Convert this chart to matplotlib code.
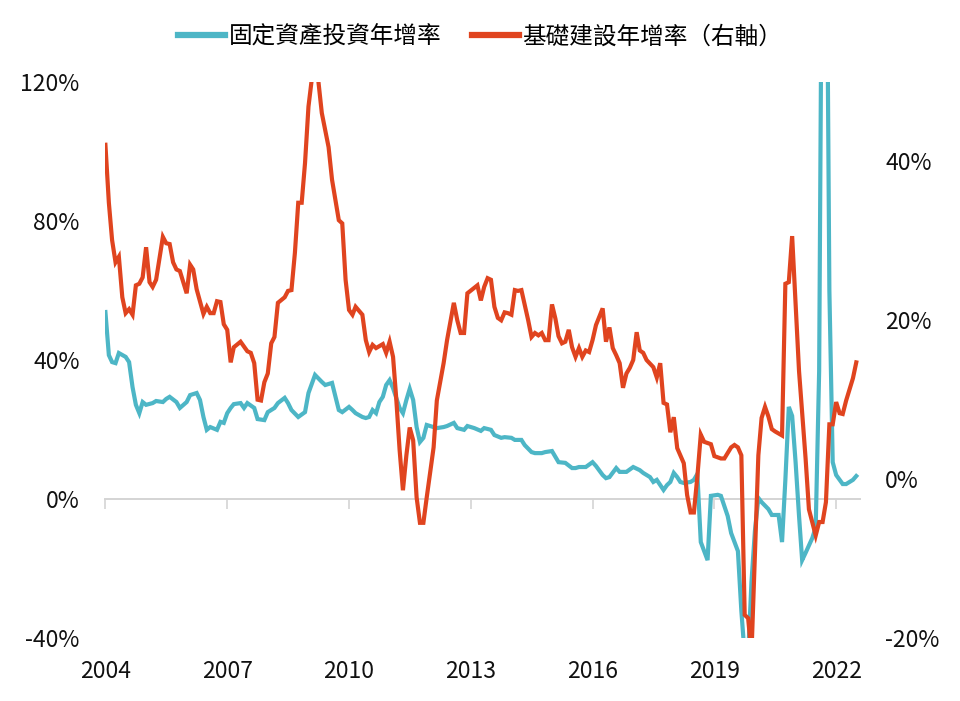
import matplotlib
matplotlib.use("Agg")
import matplotlib.pyplot as plt
import pandas as pd

plt.rcParams['font.family'] = ['Noto Sans CJK TC', 'DejaVu Sans']

# ---------------- data ----------------
fai_dates = [
    "2004-01", "2004-02", "2004-03", "2004-04", "2004-05", "2004-07", "2004-08", "2004-09", "2004-10", "2004-11", "2004-12",
    "2005-01", "2005-03", "2005-04", "2005-06", "2005-07", "2005-08", "2005-10", "2005-11",
    "2006-01", "2006-02", "2006-04", "2006-05", "2006-06", "2006-07", "2006-08", "2006-10", "2006-11", "2006-12",
    "2007-01", "2007-02", "2007-03", "2007-05", "2007-06", "2007-07", "2007-09", "2007-10", "2007-12",
    "2008-01", "2008-03", "2008-04", "2008-06", "2008-07", "2008-08", "2008-10", "2008-12",
    "2009-01", "2009-03", "2009-05", "2009-06", "2009-08", "2009-09", "2009-10", "2009-11",
    "2010-01", "2010-02", "2010-03", "2010-05", "2010-06", "2010-07", "2010-08", "2010-09", "2010-10", "2010-11", "2010-12",
    "2011-01", "2011-02", "2011-04", "2011-05", "2011-06", "2011-07", "2011-08", "2011-09", "2011-10", "2011-11", "2011-12",
    "2012-02", "2012-03", "2012-05", "2012-06", "2012-08", "2012-09", "2012-11", "2012-12",
    "2013-02", "2013-04", "2013-05", "2013-07", "2013-08", "2013-10", "2013-11",
    "2014-01", "2014-02", "2014-04", "2014-05", "2014-07", "2014-08", "2014-10", "2014-11",
    "2015-01", "2015-02", "2015-03", "2015-05", "2015-07", "2015-08", "2015-09", "2015-11",
    "2016-01", "2016-02", "2016-04", "2016-05", "2016-06", "2016-08", "2016-09", "2016-11",
    "2017-01", "2017-03", "2017-04", "2017-06", "2017-07", "2017-08", "2017-10", "2017-11", "2017-12",
    "2018-01", "2018-02", "2018-03", "2018-04", "2018-06", "2018-07", "2018-08", "2018-09", "2018-10", "2018-11", "2018-12",
    "2019-02", "2019-03", "2019-05", "2019-06", "2019-07", "2019-08", "2019-09", "2019-10", "2019-11", "2019-12",
    "2020-01", "2020-02", "2020-03", "2020-05", "2020-06", "2020-08", "2020-09", "2020-10", "2020-11", "2020-12",
    "2021-01", "2021-02", "2021-03", "2021-04", "2021-06", "2021-07", "2021-08", "2021-09", "2021-10", "2021-11", "2021-12",
    "2022-01", "2022-03", "2022-04", "2022-06", "2022-07",
]
fai_values = [
    53.8, 41.4, 39.4, 39.1, 42.0, 40.9, 39.4, 32.2, 27.1, 24.7, 27.9,
    27.1, 27.6, 28.2, 27.9, 28.8, 29.4, 27.9, 26.2,
    27.9, 29.9, 30.5, 28.5, 23.6, 19.9, 20.7, 19.9, 22.2, 21.9,
    24.7, 26.2, 27.3, 27.6, 26.2, 27.6, 26.2, 23.0, 22.7,
    25.0, 26.2, 27.6, 29.1, 27.6, 25.6, 23.6, 25.0,
    30.5, 35.7, 33.7, 32.8, 33.4, 29.4, 25.6, 25.0,
    26.5, 25.6, 24.7, 23.6, 23.3, 23.6, 25.6, 24.7, 27.9, 29.4, 32.8,
    34.2, 31.9, 26.2, 24.7, 28.5, 31.7, 28.5, 20.7, 16.4, 17.6, 21.3,
    20.7, 20.4, 20.7, 21.0, 21.9, 20.4, 19.9, 21.0,
    20.4, 19.6, 20.4, 19.9, 18.4, 17.6, 17.8,
    17.6, 17.0, 17.0, 15.5, 13.5, 13.2, 13.2, 13.5,
    13.8, 12.1, 10.6, 10.4, 8.9, 8.9, 9.2, 9.2,
    10.6, 9.5, 6.9, 6.0, 6.3, 8.9, 7.8, 7.8,
    9.2, 8.3, 7.5, 6.3, 4.9, 5.5, 2.6, 4.0, 4.9,
    7.5, 6.3, 4.9, 4.6, 4.9, 5.5, 7.2, -12.4, -15.0, -17.6, 0.9,
    1.2, 0.9, -4.9, -9.8, -12.4, -15.0, -32.2, -45.0, -45.0, -23.9,
    -9.2, 0.3, -0.9, -2.9, -4.6, -4.6, -12.4, 5.5, 26.5, 23.9,
    10.6, -4.9, -17.6, -15.5, -11.2, -8.1, 36.8, 200.0, 200.0, 60.0, 10.6,
    6.9, 4.3, 4.3, 5.5, 6.6,
]

infra_dates = [
    "2004-01", "2004-02", "2004-03", "2004-04", "2004-05", "2004-06", "2004-07", "2004-08", "2004-09", "2004-10", "2004-11", "2004-12",
    "2005-01", "2005-02", "2005-03", "2005-04", "2005-06", "2005-07", "2005-08", "2005-09", "2005-10", "2005-11",
    "2006-01", "2006-02", "2006-03", "2006-04", "2006-06", "2006-07", "2006-08", "2006-09", "2006-10", "2006-11", "2006-12",
    "2007-01", "2007-02", "2007-03", "2007-05", "2007-07", "2007-08", "2007-09", "2007-10", "2007-11", "2007-12",
    "2008-01", "2008-02", "2008-03", "2008-04", "2008-06", "2008-07", "2008-08", "2008-09", "2008-10", "2008-11", "2008-12",
    "2009-01", "2009-02", "2009-03", "2009-04", "2009-05", "2009-07", "2009-08", "2009-10", "2009-11", "2009-12",
    "2010-01", "2010-02", "2010-03", "2010-05", "2010-06", "2010-07", "2010-08", "2010-09", "2010-11", "2010-12",
    "2011-01", "2011-02", "2011-03", "2011-04", "2011-05", "2011-06", "2011-07", "2011-08", "2011-09", "2011-10", "2011-11", "2011-12",
    "2012-02", "2012-03", "2012-05", "2012-06", "2012-08", "2012-09", "2012-10", "2012-11", "2012-12",
    "2013-02", "2013-03", "2013-04", "2013-05", "2013-06", "2013-07", "2013-08", "2013-09", "2013-10", "2013-11", "2013-12",
    "2014-01", "2014-02", "2014-03", "2014-04", "2014-06", "2014-07", "2014-08", "2014-09", "2014-10", "2014-11", "2014-12",
    "2015-01", "2015-02", "2015-03", "2015-04", "2015-05", "2015-06", "2015-07", "2015-08", "2015-09", "2015-10", "2015-11", "2015-12",
    "2016-01", "2016-02", "2016-04", "2016-05", "2016-06", "2016-07", "2016-08", "2016-09", "2016-10", "2016-11", "2016-12",
    "2017-01", "2017-02", "2017-03", "2017-04", "2017-05", "2017-07", "2017-08", "2017-09", "2017-10", "2017-11", "2017-12",
    "2018-01", "2018-02", "2018-04", "2018-05", "2018-06", "2018-07", "2018-08", "2018-09", "2018-10", "2018-12",
    "2019-01", "2019-03", "2019-04", "2019-06", "2019-07", "2019-08", "2019-09", "2019-10", "2019-11", "2019-12",
    "2020-01", "2020-02", "2020-03", "2020-04", "2020-05", "2020-06", "2020-07", "2020-09", "2020-10", "2020-11", "2020-12",
    "2021-02", "2021-04", "2021-05", "2021-07", "2021-08", "2021-09", "2021-10", "2021-11", "2021-12",
    "2022-01", "2022-02", "2022-03", "2022-04", "2022-06", "2022-07",
]
infra_values = [
    42.1, 34.8, 30.1, 27.3, 28.0, 22.9, 20.9, 21.4, 20.7, 24.4, 24.6, 25.4,
    29.2, 24.8, 24.2, 25.1, 30.5, 29.7, 29.6, 27.3, 26.4, 26.2,
    23.4, 27.0, 26.4, 23.9, 20.8, 21.7, 20.9, 20.9, 22.4, 22.3, 19.5,
    18.8, 14.7, 16.6, 17.3, 16.1, 15.9, 14.6, 10.0, 9.9, 12.2,
    13.3, 17.1, 17.9, 22.2, 22.9, 23.7, 23.8, 28.5, 34.8, 34.8, 39.8,
    46.9, 50.5, 54.0, 50.0, 46.1, 41.8, 37.7, 32.6, 32.2, 25.1,
    21.3, 20.7, 21.7, 20.7, 17.5, 16.0, 16.9, 16.5, 17.0, 15.9,
    17.3, 15.4, 10.3, 3.7, -1.4, 3.0, 6.5, 4.9, -2.3, -5.5, -5.5, -2.3,
    4.0, 9.9, 14.6, 17.5, 22.2, 20.0, 18.4, 18.4, 23.4,
    24.1, 24.4, 22.5, 24.2, 25.3, 25.1, 21.7, 20.3, 20.0, 21.0, 20.9,
    20.7, 23.8, 23.7, 23.8, 20.0, 17.9, 18.4, 18.1, 18.4, 17.5, 17.5,
    22.0, 20.2, 18.0, 17.1, 17.3, 18.8, 16.6, 15.4, 16.5, 15.4, 16.2, 16.0,
    17.5, 19.4, 21.5, 17.3, 19.1, 16.5, 15.6, 14.6, 11.5, 13.3, 14.0,
    15.0, 18.5, 16.2, 15.9, 15.0, 14.1, 12.8, 14.6, 9.6, 9.4, 5.9,
    7.8, 3.9, 2.0, -2.0, -4.2, -4.2, 0.3, 5.6, 4.7, 4.4,
    2.9, 2.6, 2.6, 4.0, 4.3, 4.0, 3.0, -17.1, -17.5, -22.0,
    -9.3, 3.0, 7.7, 9.1, 7.9, 6.3, 6.0, 5.5, 24.6, 24.8, 30.6,
    13.6, 2.6, -3.8, -7.1, -5.4, -5.4, -2.9, 6.9, 6.9,
    9.7, 8.3, 8.2, 9.9, 12.7, 14.7,
]

year_ticks = ["2004", "2007", "2010", "2013", "2016", "2019", "2022"]
left_ticks = [-40, 0, 40, 80, 120]
right_ticks = [-20, 0, 20, 40]

series_names = ["固定資產投資年增率", "基礎建設年增率（右軸）"]

# ---------------- plot ----------------
CYAN = "#4db6c6"
RED = "#e0441f"
GRAY = "#d4d4d4"
TXT = "#111111"

fig = plt.figure(figsize=(9.6, 7.01), dpi=100)
ax = fig.add_axes([0.109, 0.0899, 0.787, 0.7931])
ax2 = ax.twinx()

fx = pd.to_datetime(fai_dates, format="%Y-%m")
ix = pd.to_datetime(infra_dates, format="%Y-%m")

l1, = ax.plot(fx, fai_values, color=CYAN, lw=3.0, solid_joinstyle="miter")
l2, = ax2.plot(ix, infra_values, color=RED, lw=3.0, solid_joinstyle="miter")

ax.set_ylim(-40, 120)
ax2.set_ylim(-20, 50)
xt = pd.to_datetime(year_ticks, format="%Y")
ax.set_xlim(pd.Timestamp("2003-12-25"), pd.Timestamp("2022-08-05"))

for a in (ax, ax2):
    for s in a.spines.values():
        s.set_visible(False)

ax.set_yticks(left_ticks)
ax.set_yticklabels([f"{v}%" for v in left_ticks])
ax2.set_yticks(right_ticks)
ax2.set_yticklabels([f"{v}%" for v in right_ticks])
ax.tick_params(axis="y", length=0, pad=18, labelsize=16.5, labelcolor=TXT)
ax2.tick_params(axis="y", length=0, pad=18, labelsize=16.5, labelcolor=TXT)

ax.set_xticks(xt)
ax.set_xticklabels(year_ticks)
ax.tick_params(axis="x", length=0, pad=16, labelsize=16.5, labelcolor=TXT)

# baseline with tick marks at the 0% level
sec = ax.secondary_xaxis(0.25)
sec.set_xticks(xt)
sec.set_xticklabels([])
sec.tick_params(axis="x", direction="out", length=7, width=1.2, color=GRAY)
sec.spines["bottom"].set_color(GRAY)
sec.spines["bottom"].set_linewidth(1.4)
sec.set_zorder(0)

leg = fig.legend([l1, l2], series_names, loc="center", bbox_to_anchor=(0.5, 0.947),
                 ncol=2, frameon=False, fontsize=17, handlelength=2.0,
                 handletextpad=0.15, columnspacing=1.3)
for h in leg.get_lines():
    h.set_linewidth(4.5)

fig.savefig("out.png", dpi=100)
